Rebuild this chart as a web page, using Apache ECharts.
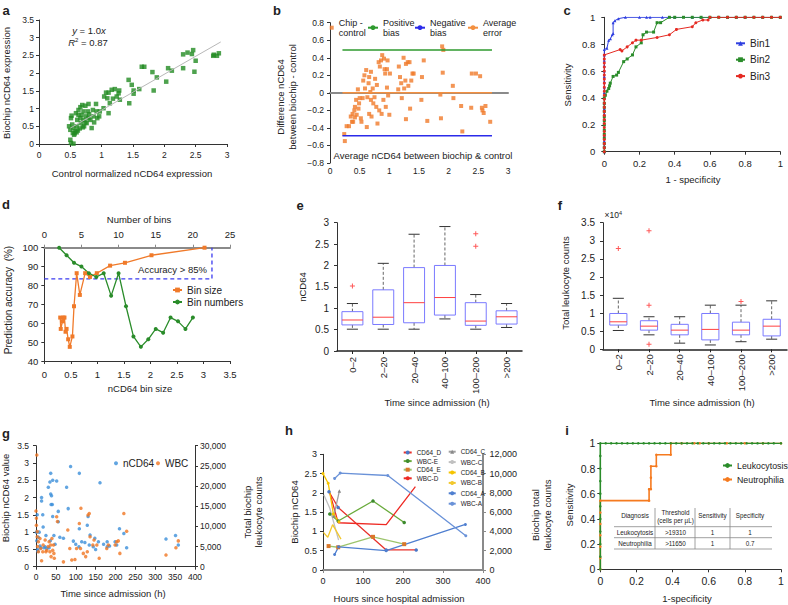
<!DOCTYPE html>
<html><head><meta charset="utf-8">
<script src="https://cdn.jsdelivr.net/npm/echarts@6/dist/echarts.min.js"></script>
<style>html,body{margin:0;padding:0;background:#fff}#c{width:788px;height:605px}</style>
</head><body><div id="c"></div>
<script>
// ---------- Panel a ----------
const aPoints = [[0.5,0.12],[0.51,0.03],[0.55,0.01],[0.48,0.5],[0.5,0.4],[0.51,0.73],[0.52,0.8],[0.54,0.31],[0.56,0.26],[0.58,0.36],[0.59,0.87],[0.6,0.5],[0.61,0.68],[0.63,0.82],[0.63,0.96],[0.66,1.04],[0.66,0.73],[0.67,0.59],[0.68,0.82],[0.69,1.1],[0.71,0.68],[0.71,0.92],[0.72,0.5],[0.74,1.08],[0.74,0.61],[0.75,0.78],[0.76,0.59],[0.78,0.92],[0.79,1.13],[0.79,0.73],[0.8,0.84],[0.82,0.68],[0.84,0.45],[0.86,0.96],[0.87,0.78],[0.88,0.61],[0.91,1.13],[0.92,0.92],[0.93,0.73],[0.96,0.78],[0.97,0.92],[1.03,1.01],[1.04,1.34],[1.07,1.45],[1.09,1.29],[1.11,0.87],[1.11,1.45],[1.13,1.15],[1.16,1.53],[1.18,1.28],[1.21,1.55],[1.24,1.34],[1.27,1.43],[1.28,1.51],[1.29,1.25],[1.43,1.81],[1.44,1.15],[1.48,1.67],[1.51,1.51],[1.51,1.42],[1.6,1.55],[1.64,2.18],[1.68,2.18],[1.81,2.03],[1.83,1.51],[1.88,1.88],[2.03,1.76],[2.06,2.14],[2.12,2.07],[2.3,2.53],[2.3,2.14],[2.37,2.58],[2.44,2.54],[2.46,2.65],[2.48,2.04],[2.5,2.35],[2.78,2.49],[2.84,2.49],[2.87,2.56],[2.79,2.52],[0.57,0.3],[0.6,0.33],[0.62,0.38],[0.55,0.45],[0.53,0.55],[0.65,0.44],[0.7,0.47]];
const aTrendX = [0.5, 2.9];
const aTrendY = [0.45, 2.88];

// ---------- Panel b ----------
const bPoints = [[0.24,-0.47],[0.25,-0.55],[0.28,-0.38],[0.32,-0.38],[0.35,-0.27],[0.37,-0.33],[0.38,-0.24],[0.39,-0.33],[0.41,-0.2],[0.42,-0.16],[0.42,-0.28],[0.44,-0.08],[0.45,-0.25],[0.47,0.04],[0.48,-0.18],[0.49,-0.12],[0.5,-0.06],[0.52,-0.29],[0.53,-0.33],[0.55,-0.06],[0.56,0.14],[0.58,0.2],[0.59,0.05],[0.61,0.26],[0.62,-0.39],[0.63,-0.05],[0.65,0.11],[0.66,-0.24],[0.66,0.18],[0.68,0.01],[0.69,-0.08],[0.69,0.24],[0.7,-0.27],[0.72,0.05],[0.73,-0.12],[0.75,-0.05],[0.76,0.16],[0.78,-0.16],[0.79,0.09],[0.8,-0.35],[0.82,0.35],[0.83,-0.2],[0.84,0.3],[0.86,0.37],[0.87,-0.24],[0.88,0.43],[0.9,-0.08],[0.91,0.39],[0.92,0.27],[0.93,0.22],[0.94,-0.16],[0.96,0.06],[0.96,0.27],[0.97,0.37],[0.98,-0.03],[1.0,-0.25],[1.01,0.22],[1.15,0.04],[1.16,0.3],[1.18,0.18],[1.2,0.11],[1.21,-0.06],[1.24,0.4],[1.25,0.05],[1.27,0.14],[1.28,-0.3],[1.28,0.33],[1.31,0.35],[1.32,0.08],[1.34,0.35],[1.35,-0.18],[1.37,0.14],[1.39,0.22],[1.41,0.22],[1.54,-0.08],[1.55,0.18],[1.58,0.37],[1.64,-0.32],[1.86,-0.02],[1.87,-0.29],[1.89,0.53],[1.91,0.49],[1.9,0.23],[2.07,0.08],[2.08,-0.06],[2.21,-0.15],[2.23,-0.44],[2.38,-0.17],[2.39,0.22],[2.46,0.22],[2.53,0.19],[2.56,-0.17],[2.57,-0.2],[2.59,-0.23],[2.62,-0.15],[2.7,-0.33]];
const bLineX = [0.21, 2.73];
const bPositive = [0.49, 0.49];
const bNegative = [-0.49, -0.49];
const bAverage = [0, 0];

// ---------- Panel c ----------
const cBin1 = [[0,0],[0,0.04],[0,0.08],[0,0.12],[0,0.16],[0,0.2],[0,0.24],[0,0.28],[0,0.32],[0,0.36],[0,0.4],[0,0.44],[0,0.48],[0,0.52],[0,0.56],[0,0.6],[0,0.64],[0,0.68],[0,0.72],[0,0.76],[0.015,0.77],[0.025,0.83],[0.035,0.84],[0.045,0.87],[0.05,0.88],[0.05,0.96],[0.06,0.975],[0.08,0.99],[0.12,1],[0.2,1],[0.24,1],[0.26,1],[0.33,1],[0.4,1],[0.5,1],[0.55,1],[0.6,1],[0.7,1],[0.75,1],[0.8,1],[0.9,1],[1,1]];
const cBin2 = [[0,0],[0,0.03],[0,0.06],[0,0.1],[0,0.13],[0,0.16],[0,0.2],[0,0.23],[0,0.26],[0,0.3],[0,0.33],[0,0.36],[0,0.4],[0.006,0.42],[0.015,0.45],[0.025,0.47],[0.03,0.49],[0.034,0.51],[0.05,0.56],[0.07,0.57],[0.08,0.59],[0.11,0.67],[0.13,0.69],[0.16,0.72],[0.18,0.78],[0.21,0.81],[0.22,0.87],[0.24,0.89],[0.28,0.89],[0.3,0.96],[0.32,0.96],[0.37,1],[0.4,1],[0.45,1],[0.5,1],[0.55,1],[0.6,1],[0.65,1],[0.7,1],[0.75,1],[0.8,1],[0.85,1],[0.9,1],[0.95,1],[1,1]];
const cBin3 = [[0,0],[0,0.03],[0,0.06],[0,0.09],[0,0.12],[0,0.15],[0,0.18],[0,0.21],[0,0.24],[0,0.27],[0,0.3],[0,0.33],[0,0.36],[0,0.39],[0,0.42],[0,0.45],[0,0.48],[0,0.51],[0,0.54],[0,0.57],[0,0.6],[0,0.63],[0,0.66],[0,0.69],[0,0.72],[0.09,0.76],[0.1,0.75],[0.13,0.78],[0.16,0.81],[0.18,0.83],[0.21,0.83],[0.3,0.85],[0.37,0.87],[0.41,0.91],[0.5,0.93],[0.52,0.96],[0.56,0.98],[0.59,0.98],[0.6,1],[0.65,1],[0.7,1],[0.75,1],[0.8,1],[0.85,1],[0.9,1],[0.95,1],[1,1]];

// ---------- Panel d ----------
const dSizeX = [0.3,0.31,0.36,0.35,0.38,0.4,0.42,0.45,0.48,0.53,0.56,0.61,0.67,0.77,0.86,0.99,1.24,1.52,2.02,3.02];
const dSizeY = [63,57,63,61,63,55.5,57,51.5,47.5,53,69,86.5,75,86.5,84.5,86.5,90.5,92,96,100];
const dNumX = [2,3,4,5,6,7,8,9,10,11,12,13,14,15,16,17,18,19,20];
const dNumY = [100,96,92,90,86.5,84.5,86.5,74.5,86.5,69,53,47.5,51.5,57,55,63,61,57,63];
const dCutX = [0, 3.16, 3.16];
const dCutY = [83.5, 83.5, 100];

// ---------- Panel e ----------
const eCategories = ['0\u20132','2\u201320','20\u201340','40\u2013100','100\u2013200','>200'];
const eLow = [0.51,0.51,0.51,0.75,0.51,0.55];
const eQ1 = [0.61,0.62,0.66,0.84,0.60,0.63];
const eMedian = [0.725,0.79,1.13,1.25,0.70,0.80];
const eQ3 = [0.92,1.43,1.95,2.0,1.13,0.94];
const eHigh = [1.11,2.05,2.73,2.91,1.32,1.11];
const eOutliers = [[0,1.52],[4,2.74],[4,2.45]];

// ---------- Panel f (x10^4) ----------
const fCategories = ['0\u20132','2\u201320','20\u201340','40\u2013100','100\u2013200','>200'];
const fLow = [0.52,0.40,0.17,0.12,0.21,0.28];
const fQ1 = [0.67,0.53,0.40,0.26,0.40,0.37];
const fMedian = [0.76,0.64,0.53,0.55,0.53,0.64];
const fQ3 = [0.99,0.79,0.69,0.99,0.75,0.83];
const fHigh = [1.41,0.90,0.90,1.22,1.22,1.34];
const fOutliers = [[0,2.79],[1,3.28],[1,1.22],[1,0.14],[4,1.32]];

// ---------- Panel g ----------
const gNcd64 = [[3,1.5],[2,0.75],[5,0.45],[4,0.5],[8,1.0],[14,2.0],[14,1.9],[17,1.5],[18,1.15],[23,0.58],[27,0.53],[31,2.3],[35,2.45],[37,2.7],[37,2.1],[39,2.05],[38,1.8],[41,1.8],[42,2.5],[42,1.45],[45,0.9],[52,2.48],[56,1.6],[56,1.3],[69,0.82],[77,2.3],[81,1.68],[87,2.9],[94,0.74],[109,2.7],[108,0.58],[109,1.1],[115,0.72],[123,0.7],[129,1.2],[131,1.45],[134,0.63],[136,0.92],[144,0.58],[148,0.82],[157,0.72],[161,2.43],[179,0.72],[179,0.58],[199,0.72],[203,0.63],[210,1.1],[221,0.96],[228,0.55],[327,0.8],[351,0.9],[358,0.63],[1,1.0],[6,0.85],[10,0.6],[12,0.55],[20,0.55],[25,0.9],[33,0.55],[36,0.75],[48,0.65],[60,0.85],[100,0.65],[150,0.5],[170,0.65],[185,0.6]];
const gWbc = [[2,27700],[0,13800],[1,12000],[1,10300],[3,8700],[3,7400],[6,6200],[4,5000],[6,3700],[10,7000],[12,4500],[14,1500],[17,3700],[18,5400],[23,6600],[25,3700],[27,4100],[31,5000],[33,6200],[35,3700],[37,5400],[38,2500],[40,7000],[42,4100],[44,5400],[45,3300],[46,2100],[52,12400],[54,11200],[69,1200],[80,9100],[85,4500],[90,1650],[98,1800],[102,4500],[109,10700],[112,4500],[113,14500],[119,3300],[125,2500],[129,3700],[131,12800],[134,13200],[136,7400],[143,5400],[146,6600],[153,5400],[159,2100],[178,4500],[182,5400],[199,5400],[203,6200],[207,6400],[211,3300],[221,13200],[228,8800],[327,2900],[352,4700],[358,6400]];

// ---------- Panel h ----------
const hCD64_D = [[15,2.03],[38,1.62],[158,0.52],[233,0.52]];
const hWBC_E = [[17,5800],[38,5080],[125,7160],[203,4920]];
const hCD64_E = [[14,0.62],[38,0.59],[125,0.86],[203,0.67]];
const hWBC_D = [[17,8000],[38,4900],[158,4700],[231,8650]];
const hCD64_C = [[27,1.4],[41,2.05]];
const hWBC_C = [[2,7800],[17,6400],[39,3100]];
const hCD64_B = [[0,2.5],[13,2.25],[26,1.45],[40,1.25]];
const hWBC_B = [[1,3900],[12,3400],[24,4700],[45,3200]];
const hCD64_A = [[29,0.4],[39,0.6],[158,0.5],[356,1.18]];
const hWBC_A = [[29,9500],[43,10050],[162,9800],[357,3560]];

// ---------- Panel i ----------
const iLeukocytosis = [[0,0],[0,0.1],[0,0.2],[0,0.3],[0,0.4],[0,0.5],[0,0.6],[0,0.7],[0,0.8],[0,0.9],[0,1],[0.03,1],[0.06,1],[0.09,1],[0.12,1],[0.15,1],[0.18,1],[0.21,1],[0.24,1],[0.27,1],[0.3,1],[0.33,1],[0.36,1],[0.39,1],[0.42,1],[0.45,1],[0.48,1],[0.51,1],[0.54,1],[0.57,1],[0.6,1],[0.63,1],[0.66,1],[0.69,1],[0.72,1],[0.75,1],[0.78,1],[0.81,1],[0.84,1],[0.87,1],[0.9,1],[0.93,1],[0.96,1],[1,1]];
const iNeutrophilia = [[0,0],[0,0.09],[0,0.18],[0,0.27],[0,0.36],[0,0.45],[0,0.545],[0.27,0.545],[0.27,0.636],[0.28,0.636],[0.28,0.727],[0.28,0.818],[0.31,0.818],[0.31,0.909],[0.39,0.909],[0.39,1],[0.45,1],[0.52,1],[0.55,1],[0.6,1],[0.7,1],[0.8,1],[0.9,1],[1,1]];
const iTableHeader = ['Diagnosis','Threshold','Sensitivity','Specificity'];
const iTableRows = [['Leukocytosis','>19310','1','1'],['Neutrophilia','>11650','1','0.7']];

// =====================================================
const FONT = "'Liberation Sans', Arial, Helvetica, sans-serif";
const zip = (xs, ys) => xs.map((x, i) => [x, ys[i]]);
function merge(a, b) {
  if (!b) return a;
  for (const k in b) {
    if (b[k] && typeof b[k] === 'object' && !Array.isArray(b[k]) && a[k] && typeof a[k] === 'object') merge(a[k], b[k]);
    else a[k] = b[k];
  }
  return a;
}
function vAx(gridIndex, min, max, interval, fs, margin, extra) {
  return merge({
    type: 'value', gridIndex, min, max, interval,
    axisLine: { show: true, onZero: false, lineStyle: { color: '#333', width: 1 } },
    axisTick: { show: true, length: 3, lineStyle: { color: '#333', width: 1 } },
    axisLabel: { fontSize: fs, color: '#222', margin, fontFamily: FONT, showMinLabel: true, showMaxLabel: true },
    splitLine: { show: false }
  }, extra);
}
function cAx(gridIndex, cats, fs, margin) {
  return {
    type: 'category', gridIndex, data: cats, boundaryGap: true,
    axisLine: { show: true, onZero: false, lineStyle: { color: '#222', width: 1.5 } },
    axisTick: { show: true, alignWithLabel: true, length: 3, lineStyle: { color: '#222' } },
    axisLabel: { fontSize: fs, color: '#222', margin, rotate: 90, fontFamily: FONT, interval: 0 },
    splitLine: { show: false }
  };
}
function T(x, y, text, fs, o) {
  o = o || {};
  return {
    type: 'text', x, y, rotation: o.rot || 0, z: 100,
    style: {
      text, fontSize: fs, fontFamily: FONT, fill: o.color || '#222',
      fontWeight: o.bold ? 'bold' : 'normal', fontStyle: o.italic ? 'italic' : 'normal',
      textAlign: o.align || 'center', textVerticalAlign: 'middle', verticalAlign: 'middle',
      rich: o.rich
    }
  };
}
function L(x1, y1, x2, y2, color, w) {
  return { type: 'line', z: 100, shape: { x1, y1, x2, y2 }, style: { stroke: color || '#888', lineWidth: w || 0.8 } };
}
const R90 = Math.PI / 2;
const PLUS = 'path://M4,0H6V4H10V6H6V10H4V6H0V4H4Z';

function boxSeries(xi, yi, lows, q1s, meds, q3s, highs, halfW, capW) {
  const data = lows.map((l, i) => [i, l, q1s[i], meds[i], q3s[i], highs[i]]);
  return {
    type: 'custom', xAxisIndex: xi, yAxisIndex: yi, data,
    encode: { x: 0, y: [1, 2, 3, 4, 5] },
    renderItem: (p, api) => {
      const i = api.value(0);
      const band = api.size([1, 0])[0];
      const c = v => api.coord([i, v]);
      const lo = c(api.value(1)), q1 = c(api.value(2)), md = c(api.value(3)), q3 = c(api.value(4)), hi = c(api.value(5));
      const x = lo[0], hw = band * halfW, cw = band * capW;
      const dash = { stroke: '#666', lineWidth: 1, lineDash: [3, 2] };
      const cap = { stroke: '#333', lineWidth: 1 };
      return {
        type: 'group', children: [
          { type: 'line', shape: { x1: x, y1: q3[1], x2: x, y2: hi[1] }, style: dash },
          { type: 'line', shape: { x1: x, y1: q1[1], x2: x, y2: lo[1] }, style: dash },
          { type: 'line', shape: { x1: x - cw, y1: hi[1], x2: x + cw, y2: hi[1] }, style: cap },
          { type: 'line', shape: { x1: x - cw, y1: lo[1], x2: x + cw, y2: lo[1] }, style: cap },
          { type: 'rect', shape: { x: x - hw, y: q3[1], width: 2 * hw, height: q1[1] - q3[1] }, style: { fill: 'none', stroke: '#7a7aff', lineWidth: 1 } },
          { type: 'line', shape: { x1: x - hw, y1: md[1], x2: x + hw, y2: md[1] }, style: { stroke: '#ff4040', lineWidth: 1 } }
        ]
      };
    }
  };
}

const grids = [
  { left: 39, top: 20, width: 188, height: 124 },        // a
  { left: 330, top: 22.7, width: 178, height: 140.3 },   // b
  { left: 604.3, top: 17.3, width: 176, height: 134.4 }, // c
  { left: 44.3, top: 247.7, width: 185.7, height: 113.3 }, // d
  { left: 337, top: 222.7, width: 185, height: 128.3 },  // e
  { left: 603, top: 222.7, width: 184, height: 126.6 },  // f
  { left: 36, top: 445.7, width: 159, height: 121 },     // g
  { left: 323, top: 454.3, width: 160, height: 115.7 },  // h
  { left: 600.3, top: 443.3, width: 180.7, height: 126 } // i
].map(g => Object.assign({ outerBoundsMode: 'none', containLabel: false }, g));

const commaFmt = v => Number(v).toLocaleString('en-US');
const xAxis = [
  vAx(0, 0, 3, 0.5, 8.5, 6),
  vAx(1, 0, 3, 0.5, 8.5, 3, { axisLine: { onZero: true, lineStyle: { color: '#8a8a8a', width: 2 } }, axisTick: { show: false } }),
  vAx(2, 0, 1, 0.2, 9.5, 7),
  vAx(3, 0, 3.5, 0.5, 9.5, 8),
  vAx(3, 0, 25, 5, 9.5, 8, { position: 'top', axisLine: { lineStyle: { color: '#8a8a8a', width: 2 } }, axisTick: { lineStyle: { color: '#8a8a8a' } } }),
  cAx(4, eCategories, 9.5, 6),
  cAx(5, fCategories, 9.5, 5),
  vAx(6, 0, 400, 50, 8.5, 6),
  vAx(7, 0, 400, 100, 9, 6, { axisLine: { lineStyle: { color: '#8a8a8a', width: 2 } }, axisTick: { lineStyle: { color: '#8a8a8a' } } }),
  vAx(8, 0, 1, 0.2, 10.5, 6)
];
const yAxis = [
  vAx(0, 0, 3.5, 0.5, 8.5, 5),
  vAx(1, -0.8, 0.8, 0.2, 8.5, 6, { axisLabel: { formatter: v => String(Math.round(v * 10) / 10).replace('-', '\u2212') } }),
  vAx(2, 0, 1, 0.2, 9.5, 9),
  vAx(3, 40, 100, 10, 9.5, 6),
  vAx(4, 0, 3, 0.5, 10, 8),
  vAx(5, 0, 3.5, 0.5, 10, 8),
  vAx(6, 0, 3.5, 0.5, 8.5, 7),
  vAx(6, 0, 30000, 5000, 8.5, 5, { position: 'right', axisLabel: { formatter: commaFmt } }),
  vAx(7, 0, 3, 0.5, 9, 6),
  vAx(7, 0, 12000, 2000, 9, 6.5, { position: 'right', axisLine: { lineStyle: { color: '#8a8a8a', width: 2 } }, axisTick: { lineStyle: { color: '#8a8a8a' } }, axisLabel: { formatter: commaFmt } }),
  vAx(8, 0, 1, 0.2, 10.5, 5)
];

const OR = '#f07a2a', GR = '#2a8c2a', BL = '#2f3fe0', RD = '#e52a22';
function line(name, xi, yi, data, color, o) {
  return merge({ type: 'line', name, xAxisIndex: xi, yAxisIndex: yi, data, symbol: 'none', lineStyle: { color, width: 1.3 }, itemStyle: { color }, color }, o);
}
const series = [
  // a
  line('trend', 0, 0, zip(aTrendX, aTrendY), '#b8b8b8', { lineStyle: { width: 1 } }),
  { type: 'scatter', name: 'a', xAxisIndex: 0, yAxisIndex: 0, data: aPoints, symbol: 'rect', symbolSize: 4.5, itemStyle: { color: '#228b22' } },
  // b
  line('Positive\nbias', 1, 1, zip(bLineX, bPositive), '#2e9a2e', { lineStyle: { width: 1.5 } }),
  line('Negative\nbias', 1, 1, zip(bLineX, bNegative), '#2b2bea', { lineStyle: { width: 1.5 } }),
  line('Average\nerror', 1, 1, zip(bLineX, bAverage), '#f39040', { lineStyle: { width: 1.5 } }),
  { type: 'scatter', name: 'Chip -\ncontrol', xAxisIndex: 1, yAxisIndex: 1, data: bPoints, symbol: 'rect', symbolSize: 4, itemStyle: { color: OR } },
  // c
  line('Bin1', 2, 2, cBin1, BL, { symbol: 'triangle', symbolSize: 3, showSymbol: true, showAllSymbol: true, lineStyle: { width: 1 } }),
  line('Bin2', 2, 2, cBin2, GR, { symbol: 'rect', symbolSize: 3, showSymbol: true, showAllSymbol: true, lineStyle: { width: 1 } }),
  line('Bin3', 2, 2, cBin3, RD, { symbol: 'circle', symbolSize: 3, showSymbol: true, showAllSymbol: true, lineStyle: { width: 1 } }),
  // d
  line('cut', 3, 3, zip(dCutX, dCutY), '#3b3bf0', { lineStyle: { type: [4, 3], width: 1.3 } }),
  line('Bin size', 3, 3, zip(dSizeX, dSizeY), OR, { symbol: 'rect', symbolSize: 4, showSymbol: true }),
  line('Bin numbers', 4, 3, zip(dNumX, dNumY), GR, { symbol: 'circle', symbolSize: 4, showSymbol: true }),
  // e
  boxSeries(5, 4, eLow, eQ1, eMedian, eQ3, eHigh, 0.34, 0.18),
  { type: 'scatter', xAxisIndex: 5, yAxisIndex: 4, data: eOutliers, symbol: PLUS, symbolSize: 5, itemStyle: { color: '#ff3030' } },
  // f
  boxSeries(6, 5, fLow, fQ1, fMedian, fQ3, fHigh, 0.28, 0.18),
  { type: 'scatter', xAxisIndex: 6, yAxisIndex: 5, data: fOutliers, symbol: PLUS, symbolSize: 5, itemStyle: { color: '#ff3030' } },
  // g
  { type: 'scatter', name: 'nCD64', xAxisIndex: 7, yAxisIndex: 6, data: gNcd64, symbol: 'circle', symbolSize: 3.5, itemStyle: { color: '#3b8fd9' } },
  { type: 'scatter', name: 'WBC', xAxisIndex: 7, yAxisIndex: 7, data: gWbc, symbol: 'circle', symbolSize: 3.5, itemStyle: { color: '#f07622' } },
  // h
  line('CD64_D', 8, 8, hCD64_D, '#e8302a', { symbol: 'circle', symbolSize: 3.5, showSymbol: true, itemStyle: { color: '#4a78c8' } }),
  line('WBC-E', 8, 9, hWBC_E, '#6aab3c', { symbol: 'circle', symbolSize: 3.5, showSymbol: true, itemStyle: { color: '#3d8a2e' } }),
  line('CD64_E', 8, 8, hCD64_E, '#9cc46c', { symbol: 'rect', symbolSize: 4, showSymbol: true, itemStyle: { color: '#d9772a' } }),
  line('WBC-D', 8, 9, hWBC_D, '#ee2a24'),
  line('CD64_C', 8, 8, hCD64_C, '#a0a0a0', { symbol: 'triangle', symbolSize: 3.5, showSymbol: true, itemStyle: { color: '#888' } }),
  line('WBC-C', 8, 9, hWBC_C, '#c0c0c0'),
  line('CD64_B', 8, 8, hCD64_B, '#f5c400', { symbol: 'circle', symbolSize: 3, showSymbol: true }),
  line('WBC-B', 8, 9, hWBC_B, '#f2c82e'),
  line('CD64_A', 8, 8, hCD64_A, '#4f7fd0', { symbol: 'circle', symbolSize: 3, showSymbol: true }),
  line('WBC-A', 8, 9, hWBC_A, '#6a92d8', { symbol: 'circle', symbolSize: 3, showSymbol: true }),
  // i
  line('Neutrophilia', 9, 10, iNeutrophilia, '#f57a1f', { symbol: 'circle', symbolSize: 2.5, showSymbol: true, lineStyle: { width: 1.6 } }),
  line('Leukocytosis', 9, 10, iLeukocytosis, '#2a8c2a', { symbol: 'circle', symbolSize: 2.5, showSymbol: true, lineStyle: { width: 1.6 } })
];

function lg(names, left, top, fs, iw, ih, gap, orient, o) {
  return merge({
    data: names, left, top, orient: orient || 'vertical', padding: 0, itemGap: gap, itemWidth: iw, itemHeight: ih,
    selectedMode: false, textStyle: { fontSize: fs, fontFamily: FONT, color: '#222' }
  }, o);
}
const legend = [
  lg(['Chip -\ncontrol'], 329.7, 17.7, 9, 4, 4, 0, 'vertical', { textStyle: { lineHeight: 10 } }),
  lg(['Positive\nbias'], 367, 17.7, 9, 10, 6, 0, 'vertical', { textStyle: { lineHeight: 10 } }),
  lg(['Negative\nbias'], 414, 17.7, 9, 10, 6, 0, 'vertical', { textStyle: { lineHeight: 10 } }),
  lg(['Average\nerror'], 467, 17.7, 9, 10, 6, 0, 'vertical', { textStyle: { lineHeight: 10 } }),
  lg(['Bin1', 'Bin2', 'Bin3'], 735, 38.3, 10, 9, 6, 6.4),
  lg(['Bin size', 'Bin numbers'], 172, 285, 10, 9, 6, 2),
  lg(['nCD64'], 114, 458.3, 10, 4, 4, 0),
  lg(['WBC'], 156, 458.3, 10, 4, 4, 0),
  lg(['CD64_D', 'WBC-E', 'CD64_E', 'WBC-D'], 402.7, 449.5, 6.4, 8, 5, 2.6),
  lg(['CD64_C', 'WBC-C', 'CD64_B', 'WBC-B', 'CD64_A', 'WBC-A'], 447.7, 448.7, 6.4, 7, 5, 4.4),
  lg(['Leukocytosis', 'Neutrophilia'], 722, 461, 8.8, 9, 6, 5)
];

const sup = { s: { fontSize: 6, padding: [0, 0, 5, 0], fontFamily: FONT, fill: '#222' }, i: { fontStyle: 'italic', fontSize: 9.5, fontFamily: FONT, fill: '#222' }, n: { fontSize: 9.5, fontFamily: FONT, fill: '#222' } };
const graphic = [
  // panel letters
  T(6, 10, 'a', 13, { bold: true }), T(277, 10, 'b', 13, { bold: true }), T(567, 10, 'c', 13, { bold: true }),
  T(6, 204, 'd', 13, { bold: true }), T(300, 205, 'e', 13, { bold: true }), T(560, 205, 'f', 13, { bold: true }),
  T(6, 433, 'g', 13, { bold: true }), T(289, 430, 'h', 13, { bold: true }), T(567, 430, 'i', 13, { bold: true }),
  // a
  T(132, 173, 'Control normalized nCD64 expression', 9.5),
  T(6, 83, 'Biochip nCD64 expression', 9.5, { rot: R90 }),
  T(89, 30, '{i|y}{n| = 1.0}{i|x}', 9.5, { rich: sup }),
  T(88, 42, '{i|R}{s|2}{n| = 0.87}', 9.5, { rich: sup }),
  // b
  T(423, 155, 'Average nCD64 between biochip & control', 9.5),
  T(280.5, 97, 'Difference nCD64', 9.5, { rot: R90 }),
  T(292, 97, 'between biochip - control', 9.5, { rot: R90 }),
  // c
  T(567, 85, 'Sensitivity', 9.5, { rot: R90 }),
  T(693, 179, '1 - specificity', 9.5),
  // d
  T(139, 219, 'Number of bins', 9.5),
  T(140, 388, 'nCD64 bin size', 9.5),
  T(8, 300, 'Prediction accuracy  (%)', 10, { rot: R90 }),
  T(172.5, 269, 'Accuracy > 85%', 9.5),
  // e
  T(302, 287, 'nCD64', 9.5, { rot: R90 }),
  T(437, 402, 'Time since admission (h)', 9.5),
  // f
  T(565, 283, 'Total leukocyte counts', 9.5, { rot: R90 }),
  T(702, 402, 'Time since admission (h)', 9.5),
  T(604.5, 215, '{n|\u00d710}{s|4}', 8.5, { align: 'left', rich: { n: { fontSize: 8.5, fontFamily: FONT, fill: '#222' }, s: { fontSize: 5.5, padding: [0, 0, 5, 0], fontFamily: FONT, fill: '#222' } } }),
  // g
  T(5, 498, 'Biochip nCD64 value', 9.5, { rot: R90 }),
  T(113, 593, 'Time since admission (h)', 9.5),
  T(247, 512, 'Total biochip', 9.5, { rot: R90 }),
  T(258.5, 512, 'leukocyte counts', 9.5, { rot: R90 }),
  // h
  T(294, 512, 'Biochip nCD64', 9.5, { rot: R90 }),
  T(399, 598, 'Hours since hospital admission', 9.5),
  T(535, 515, 'Biochip total', 9.5, { rot: R90 }),
  T(547, 515, 'leukocyte counts', 9.5, { rot: R90 }),
  // i
  T(569, 505, 'Sensitivity', 9.5, { rot: R90 }),
  T(687, 598, '1-specificity', 9.5),
  // i table
  L(614, 526.7, 772, 526.7), L(614, 537.7, 772, 537.7), L(614, 549, 772, 549),
  L(655, 508, 655, 549), L(695, 508, 695, 549), L(730, 508, 730, 549),
  T(635, 515, iTableHeader[0], 6.3), T(675.5, 512.5, iTableHeader[1], 6.3), T(675.5, 520.5, '(cells per \u00b5L)', 6.3),
  T(712.5, 515, iTableHeader[2], 6.3), T(750, 515, iTableHeader[3], 6.3)
];
const colX = [635, 675.5, 712.5, 750];
const rowY = [532.3, 543.3];
iTableRows.forEach((r, ri) => r.forEach((t, ci) => graphic.push(T(colX[ci], rowY[ri], t, 6.3))));

const chart = echarts.init(document.getElementById('c'), null, { renderer: 'svg' });
chart.setOption({
  animation: false,
  backgroundColor: '#ffffff',
  textStyle: { fontFamily: FONT },
  grid: grids, xAxis, yAxis, series, legend, graphic
});
</script></body></html>
